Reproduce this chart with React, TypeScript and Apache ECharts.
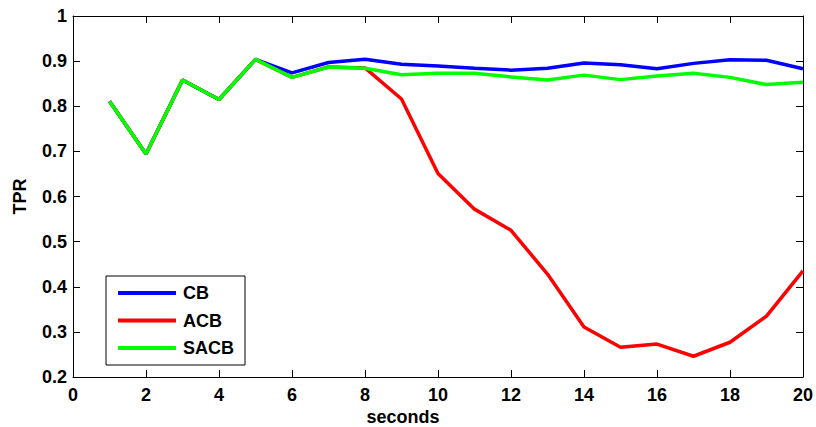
import React, { useEffect, useRef } from "react";
import * as echarts from "echarts";

const seconds = [1, 2, 3, 4, 5, 6, 7, 8, 9, 10, 11, 12, 13, 14, 15, 16, 17, 18, 19, 20];
const CB = [0.811, 0.694, 0.858, 0.815, 0.904, 0.874, 0.897, 0.904, 0.893, 0.889, 0.884, 0.880, 0.884, 0.896, 0.892, 0.883, 0.895, 0.903, 0.902, 0.883];
const ACB = [0.811, 0.694, 0.858, 0.815, 0.904, 0.864, 0.887, 0.885, 0.816, 0.651, 0.572, 0.525, 0.428, 0.311, 0.266, 0.273, 0.246, 0.277, 0.335, 0.435];
const SACB = [0.811, 0.694, 0.858, 0.815, 0.904, 0.864, 0.887, 0.884, 0.870, 0.873, 0.873, 0.865, 0.858, 0.869, 0.859, 0.867, 0.873, 0.864, 0.848, 0.853];
const seriesNames = ["CB", "ACB", "SACB"];
const seriesColors = ["#0000ff", "#ff0000", "#00ff00"];
const xLabel = "seconds";
const yLabel = "TPR";

const FONT = "'Liberation Sans', Arial, Helvetica, sans-serif";

export default function App() {
  const ref = useRef<HTMLDivElement>(null);
  useEffect(() => {
    if (!ref.current) return;
    const chart = echarts.init(ref.current, null, { renderer: "svg" });
    const values = [CB, ACB, SACB];
    const axisLine = { show: true, onZero: false, lineStyle: { color: "#000", width: 1 } };
    const tick = { show: true, inside: true, length: 7, lineStyle: { color: "#000", width: 1 } };
    const label = { fontFamily: FONT, fontWeight: "bold" as const, fontSize: 18, color: "#000" };
    chart.setOption({
      animation: false,
      backgroundColor: "#fff",
      grid: { left: 73, right: 13, top: 16, bottom: 50, containLabel: false },
      xAxis: [
        {
          type: "value", min: 0, max: 20, interval: 2, position: "bottom",
          axisLine, axisTick: tick, splitLine: { show: false },
          axisLabel: { ...label, margin: 9, formatter: (v: number) => String(v) },
        },
        {
          type: "value", min: 0, max: 20, interval: 2, position: "top",
          axisLine, axisTick: tick, splitLine: { show: false }, axisLabel: { show: false },
        },
      ],
      yAxis: [
        {
          type: "value", min: 0.2, max: 1, interval: 0.1, position: "left",
          axisLine, axisTick: tick, splitLine: { show: false },
          axisLabel: { ...label, margin: 6, formatter: (v: number) => String(Math.round(v * 10) / 10) },
        },
        {
          type: "value", min: 0.2, max: 1, interval: 0.1, position: "right",
          axisLine, axisTick: tick, splitLine: { show: false }, axisLabel: { show: false },
        },
      ],
      legend: {
        left: 106, top: 276, orient: "vertical",
        backgroundColor: "#fff", borderColor: "#000", borderWidth: 1,
        padding: [7, 11, 7, 12], itemGap: 7.5, itemWidth: 58, itemHeight: 4,
        icon: "rect",
        textStyle: { ...label, lineHeight: 20, padding: [0, 0, 0, 2] },
        data: seriesNames,
      },
      graphic: [
        {
          type: "text", x: 20, y: 196.5, rotation: Math.PI / 2,
          style: { text: yLabel, font: `bold 18px ${FONT}`, fill: "#000", align: "center", verticalAlign: "middle" },
        },
        {
          type: "text", x: 403, y: 416.5,
          style: { text: xLabel, font: `bold 18px ${FONT}`, fill: "#000", align: "center", verticalAlign: "middle" },
        },
      ],
      series: seriesNames.map((name, i) => ({
        name, type: "line", xAxisIndex: 0, yAxisIndex: 0,
        data: seconds.map((s, j) => [s, values[i][j]]),
        showSymbol: false, symbol: "none",
        lineStyle: { color: seriesColors[i], width: 3.5 },
        itemStyle: { color: seriesColors[i] },
      })),
    });
    return () => chart.dispose();
  }, []);
  return <div ref={ref} style={{ position: "absolute", left: 0, top: 0, width: 816, height: 427 }} />;
}
